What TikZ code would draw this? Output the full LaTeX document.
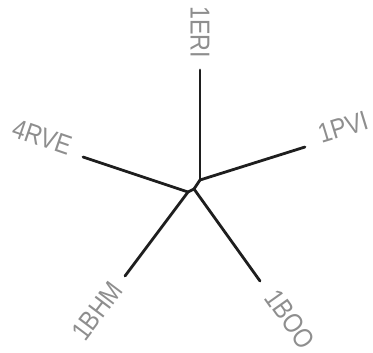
\documentclass[tikz,border=0pt]{standalone}
\usepackage{fontspec}
\setmainfont{Liberation Sans}
\definecolor{edgecol}{HTML}{1E1E1E}
\definecolor{labcol}{HTML}{8E8E8E}
\newcommand{\tallname}[1]{\scalebox{0.97}[1.14]{#1}}
\begin{document}
\begin{tikzpicture}[x=1pt,y=-1pt,
  edge/.style={draw=edgecol,line width=2.8pt,line cap=round,line join=round},
  leaflabel/.style={text=labcol,font=\fontsize{24}{24}\selectfont,inner sep=0pt}]
\useasboundingbox (0,0) rectangle (373,353);
% internal nodes
\coordinate (A) at (200,180);
\coordinate (B) at (194,189);
\coordinate (C) at (188,192);
% leaf ends
\coordinate (eERI) at (200,70);
\coordinate (ePVI) at (305,147);
\coordinate (eRVE) at (83,157);
\coordinate (eBHM) at (125,276);
\coordinate (eBOO) at (260,281);
% edges
\draw[edge] (A) -- (eERI);
\draw[edge] (A) -- (ePVI);
\draw[edge] (A) -- (B);
\draw[edge] (B) -- (eBOO);
\draw[edge] (B) -- (C);
\draw[edge] (C) -- (eRVE);
\draw[edge] (C) -- (eBHM);
% labels
\node[leaflabel,rotate=-90] (lERI) at (200,32) {\tallname{1ERI}};
\node[leaflabel,rotate=17] (lPVI) at (343,127) {\tallname{1PVI}};
\node[leaflabel,rotate=-19] (lRVE) at (42,137) {\tallname{4RVE}};
\node[leaflabel,rotate=53] (lBHM) at (97,311) {\tallname{1BHM}};
\node[leaflabel,rotate=-54.6] (lBOO) at (290,319) {\tallname{1BOO}};
\end{tikzpicture}
\end{document}
